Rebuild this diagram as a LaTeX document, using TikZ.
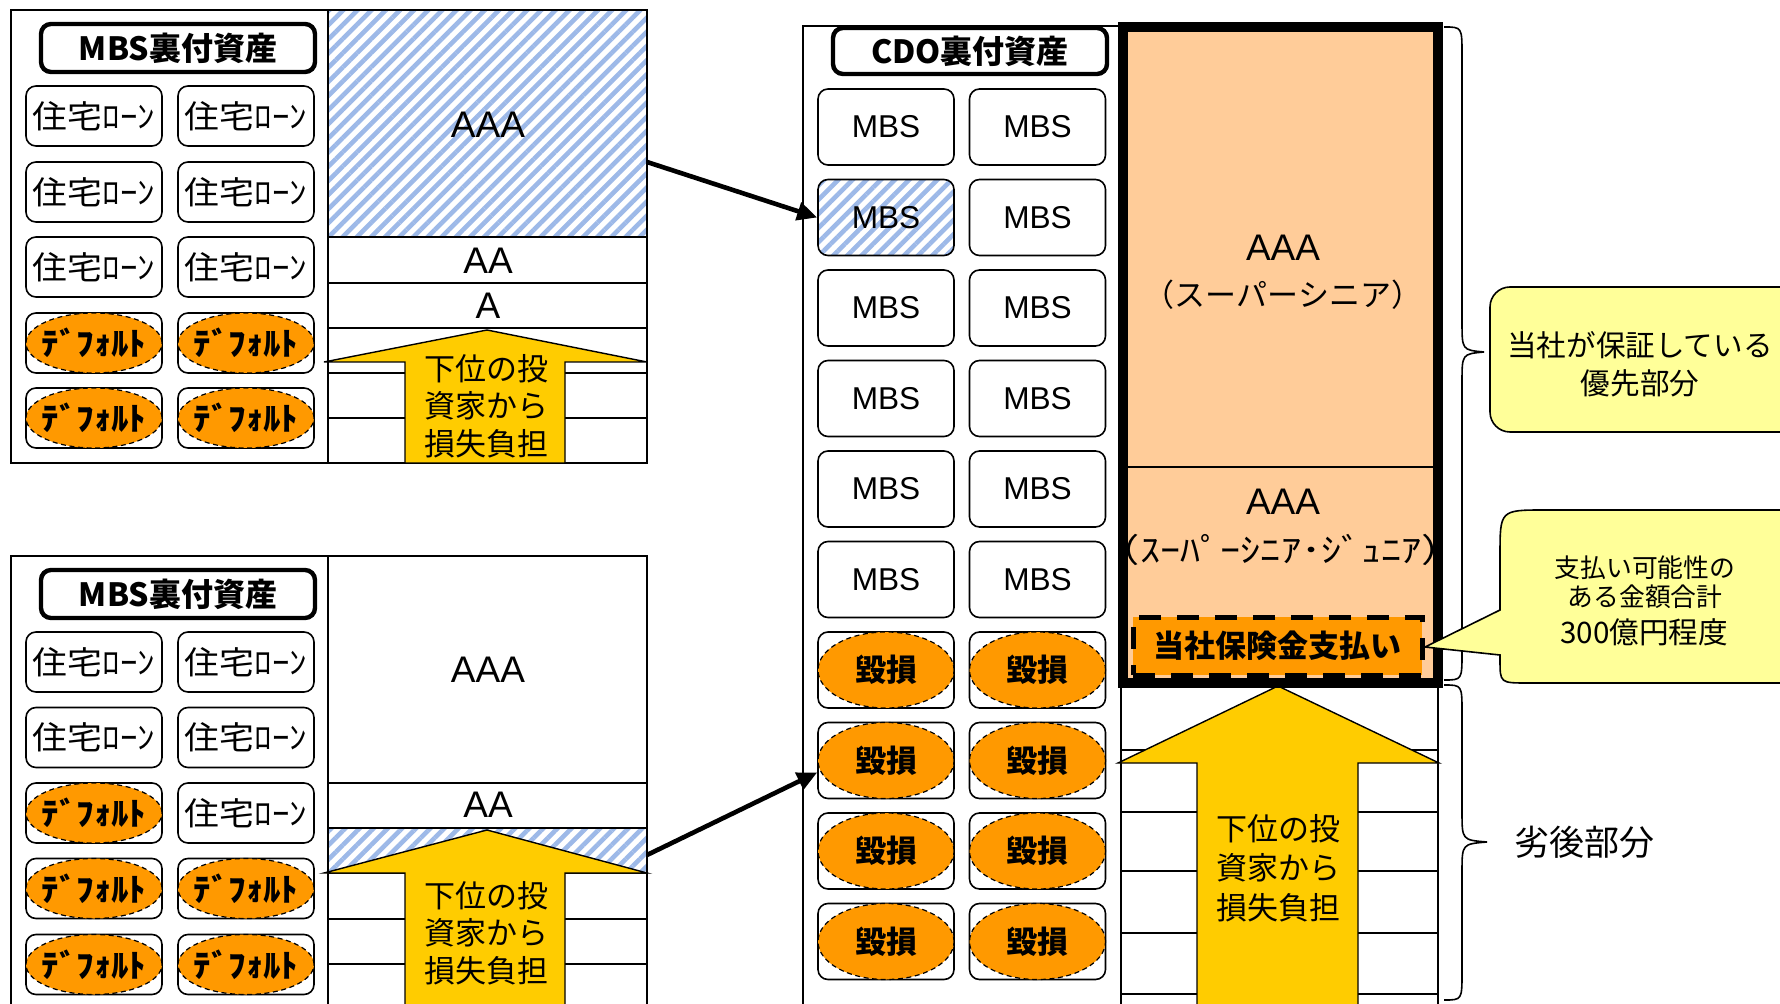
\documentclass[tikz,border=0pt]{standalone}
\usepackage{fontspec}
\setmainfont{Liberation Sans}
\newfontfamily\jp{Noto Sans CJK JP}
\usetikzlibrary{arrows.meta,patterns.meta,shapes.geometric}
\definecolor{orng}{HTML}{FF9900}
\definecolor{peach}{HTML}{FFCC99}
\definecolor{arrowyel}{HTML}{FFCC00}
\definecolor{callyel}{HTML}{FFFF99}
\definecolor{hatchblue}{HTML}{9DB9E8}
\newcommand\LoanTxt{\scalebox{1.09}[1]{住宅ﾛｰﾝ}}
\newcommand\DfltTxt{\scalebox{1.09}[1]{ﾃﾞﾌｫﾙﾄ}}
\tikzset{
  hatch/.style={pattern={Lines[angle=45,distance=5pt,line width=2.3pt]}, pattern color=hatchblue},
  panel/.style={draw=black, line width=0.9pt},
  tline/.style={draw=black, line width=0.9pt},
  titlebox/.style={draw=black, line width=2.2pt, rounded corners=5pt, fill=white, minimum width=137pt, minimum height=24pt, inner sep=0pt, font=\jp\bfseries\fontsize{16pt}{18pt}\selectfont},
  cell/.style={draw=black, line width=0.8pt, rounded corners=5pt, fill=white, minimum width=68pt, inner sep=0pt},
  loan/.style={cell, minimum height=30pt, font=\jp\fontsize{16pt}{18pt}\selectfont},
  dflt/.style={ellipse, draw=black, line width=0.6pt, dash pattern=on 2.5pt off 1.8pt, fill=orng, minimum width=68pt, minimum height=30pt, inner xsep=-8pt, inner ysep=-4pt, font=\jp\bfseries\fontsize{16pt}{18pt}\selectfont},
  mbs/.style={cell, minimum height=38pt, font=\fontsize{15.8pt}{18pt}\selectfont},
  dmgcell/.style={cell, minimum height=38pt},
  dmg/.style={dflt, minimum height=38pt, font=\jp\bfseries\fontsize{15.5pt}{18pt}\selectfont},
  rating/.style={font=\fontsize{18.5pt}{20pt}\selectfont, inner sep=0pt},
  trname/.style={font=\jp\fontsize{15.5pt}{18pt}\selectfont, inner sep=0pt},
  lossarrow/.style={draw=black, line width=0.7pt, fill=arrowyel},
  arrowtxt/.style={font=\jp\fontsize{15.5pt}{18.75pt}\selectfont, align=center, inner sep=0pt},
  paybox/.style={draw=black, line width=2.5pt, dash pattern=on 11pt off 8pt, fill=orng, minimum width=144.5pt, minimum height=29pt, inner sep=0pt, font=\jp\bfseries\fontsize{15.5pt}{18pt}\selectfont},
  conn/.style={draw=black, line width=2.3pt, -{Triangle[length=10pt,width=9pt]}},
  bracepath/.style={draw=black, line width=0.8pt},
  callout/.style={draw=black, line width=0.8pt, fill=callyel},
  calltxt/.style={font=\jp\fontsize{14.8pt}{19pt}\selectfont, align=center, inner sep=0pt},
}
\begin{document}
\begin{tikzpicture}[x=0.5pt,y=-0.5pt]
\useasboundingbox (0,0) rectangle (1780,1004);
\clip (0,0) rectangle (1780,1004);
\fill[white] (0,0) rectangle (1780,1004);

% ---------- top-left MBS ----------
\fill[hatch] (328,10) rectangle (647,237);
\draw[tline] (328,237) -- (647,237) (328,283) -- (647,283) (328,328) -- (647,328)
  (328,373) -- (647,373) (328,418) -- (647,418);
\draw[panel] (11,10) rectangle (647,463) (328,10) -- (328,463);
\draw[lossarrow] (405,463) -- (405,362) -- (324,362) -- (487,330) -- (647,362) -- (565,362) -- (565,463) -- cycle;
\node[rating] (tAAA) at (488,125) {AAA};
\node[rating] (tAA) at (488,261) {AA};
\node[rating] (tA) at (488,306) {A};
\node[arrowtxt] (tLoss) at (486,406) {下位の投\\資家から\\損失負担};
\node[titlebox] (tTitle) at (178,48) {MBS裏付資産};
\foreach \r/\y in {1/116,2/192,3/267} \foreach \c/\x in {1/94,2/246}
  \node[loan] (tl-\r-\c) at (\x,\y) {\LoanTxt};
\foreach \r/\y in {4/343,5/418} \foreach \c/\x in {1/94,2/246} {
  \node[loan] (tl-\r-\c) at (\x,\y) {};
  \node[dflt] (td-\r-\c) at (\x,\y) {\DfltTxt};
}

% ---------- bottom-left MBS ----------
\fill[hatch] (328,828) rectangle (647,873);
\draw[tline] (328,783) -- (647,783) (328,828) -- (647,828) (328,873) -- (647,873)
  (328,919) -- (647,919) (328,964) -- (647,964);
\draw[panel] (11,1012) -- (11,556) -- (647,556) -- (647,1012) (328,556) -- (328,1012);
\draw[lossarrow] (405,1012) -- (405,873) -- (324,873) -- (487,830) -- (647,873) -- (565,873) -- (565,1012) -- cycle;
\node[rating] (bAAA) at (488,670) {AAA};
\node[rating] (bAA) at (488,805) {AA};
\node[arrowtxt] (bLoss) at (486,933) {下位の投\\資家から\\損失負担};
\node[titlebox] (bTitle) at (178,594) {MBS裏付資産};
\foreach \r/\y in {1/662,2/737.5} \foreach \c/\x in {1/94,2/246}
  \node[loan] (bl-\r-\c) at (\x,\y) {\LoanTxt};
\node[loan] (bl-3-1) at (94,813) {};
\node[dflt] (bd-3-1) at (94,813) {\DfltTxt};
\node[loan] (bl-3-2) at (246,813) {\LoanTxt};
\foreach \r/\y in {4/888.5,5/964.5} \foreach \c/\x in {1/94,2/246} {
  \node[loan] (bl-\r-\c) at (\x,\y) {};
  \node[dflt] (bd-\r-\c) at (\x,\y) {\DfltTxt};
}

% ---------- CDO assets ----------
\draw[panel] (803,1012) -- (803,26) -- (1120,26);
\node[titlebox, minimum height=23pt] (cTitle) at (970,51) {CDO裏付資産};
\foreach \r/\y in {1/127,3/308,4/398.5,5/489,6/579.5} \foreach \c/\x in {1/886,2/1037.5}
  \node[mbs] (c-\r-\c) at (\x,\y) {MBS};
\node[mbs, fill=none, hatch] (c-2-1) at (886,217.5) {MBS};
\node[mbs] (c-2-2) at (1037.5,217.5) {MBS};
\foreach \r/\y in {7/670,8/760.5,9/851,10/941.5} \foreach \c/\x in {1/886,2/1037.5} {
  \node[dmgcell] (c-\r-\c) at (\x,\y) {};
  \node[dmg] (cd-\r-\c) at (\x,\y) {毀損};
}

% ---------- CDO tranches ----------
\fill[peach] (1122,27) rectangle (1438,682);
\draw[tline] (1122,467) -- (1438,467);
\node[rating] (sAAA) at (1283,248) {AAA};
\node[trname] (sName) at (1283,295) {（スーパーシニア）};
\node[rating] (jAAA) at (1283,502) {AAA};
\node[trname, font=\jp\fontsize{16.5pt}{18pt}\selectfont] (jName) at (1281,550) {\scalebox{1.22}[1]{（ｽｰﾊﾟｰｼﾆｱ･ｼﾞｭﾆｱ）}};
\node[paybox] (pay) at (1277.5,646) {当社保険金支払い};
\draw[tline] (1121,682) -- (1121,1012) (1438,682) -- (1438,1012)
  (1121,750) -- (1438,750) (1121,812) -- (1438,812) (1121,871) -- (1438,871)
  (1121,933) -- (1438,933) (1121,994) -- (1438,994);
\draw[lossarrow] (1197,1012) -- (1197,763) -- (1118,763) -- (1278,686) -- (1439,763) -- (1358,763) -- (1358,1012) -- cycle;
\node[arrowtxt, font=\jp\fontsize{15.5pt}{19.75pt}\selectfont] (cLoss) at (1278,868) {下位の投\\資家から\\損失負担};
\draw[draw=black, line width=5pt] (1122.5,27) rectangle (1438,682.5);

% ---------- connectors ----------
\coordinate (tOut) at (647,162);
\coordinate (bOut) at (647,855);
\draw[conn] (tOut) -- (c-2-1.west);
\draw[conn] (bOut) -- ([yshift=-6pt]c-8-1.west);

% ---------- braces ----------
\draw[bracepath] (1444,27) .. controls (1462,27) .. (1462,55) -- (1462,322)
  .. controls (1462,350) .. (1484,352) .. controls (1462,354) .. (1462,382)
  -- (1462,652) .. controls (1462,680) .. (1444,680);
\draw[bracepath] (1444,685) .. controls (1462,685) .. (1462,713) -- (1462,812)
  .. controls (1462,840) .. (1487,842) .. controls (1462,844) .. (1462,872)
  -- (1462,972) .. controls (1462,1000) .. (1444,1000);
\node[font=\jp\fontsize{17.5pt}{20pt}\selectfont, inner sep=0pt] (sub) at (1584,842) {劣後部分};

% ---------- callouts ----------
\draw[callout, rounded corners=10pt] (1490,287) rectangle (1810,432);
\node[calltxt] (c1txt) at (1640,364) {当社が保証している\\優先部分};
\draw[callout] (1425,647) -- (1500,655) -- (1500,660) .. controls (1500,683) .. (1528,683)
  -- (1810,683) -- (1810,510) -- (1545,510) .. controls (1500,510) .. (1500,555) -- (1500,610) -- cycle;
\node[font=\jp\fontsize{12.9pt}{15pt}\selectfont, inner sep=0pt] (c2a) at (1645,568) {支払い可能性の};
\node[font=\jp\fontsize{12.9pt}{15pt}\selectfont, inner sep=0pt] (c2b) at (1645,597) {ある金額合計};
\node[font=\jp\fontsize{14.8pt}{17pt}\selectfont, inner sep=0pt] (c2c) at (1644,632) {300億円程度};
\end{tikzpicture}
\end{document}
